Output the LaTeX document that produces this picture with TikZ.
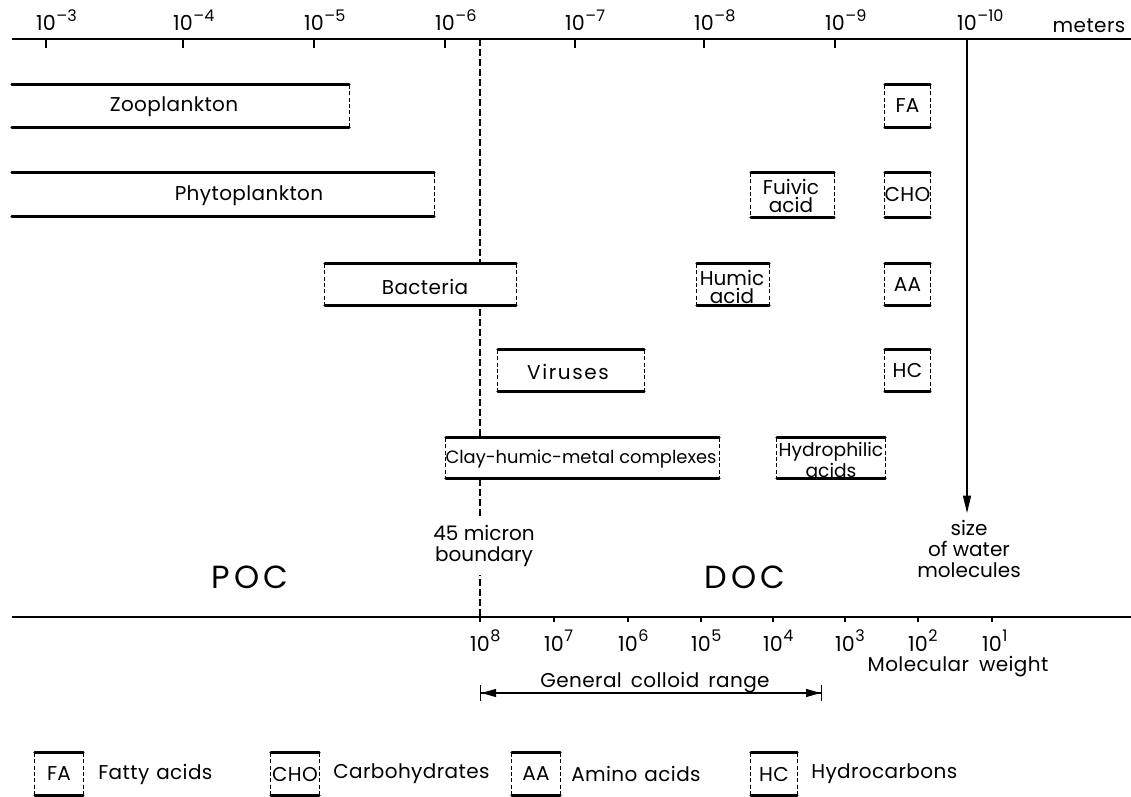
\documentclass[tikz,border=0pt]{standalone}
\usepackage{fontspec}
\setmainfont{Poppins}
\usetikzlibrary{arrows.meta,fit}

% edges of a size band: solid top and bottom, dashed ends
\newcommand\bandTB[1]{\draw[solidedge] (#1.north west) -- (#1.north east) (#1.south west) -- (#1.south east);}
\newcommand\bandL[1]{\draw[dashedge] (#1.north west) -- (#1.south west);}
\newcommand\bandR[1]{\draw[dashedge] (#1.north east) -- (#1.south east);}
% power of ten, centred on the base
\newcommand\pw[2]{10\rlap{\kern0.5pt\raisebox{0.48em}{\fontsize{12}{12}\selectfont#2}}}

\begin{document}
\begin{tikzpicture}[x=0.75pt,y=-0.75pt,
  lab/.style={font=\fontsize{15}{17}\selectfont\addfontfeature{LetterSpace=2}, inner sep=0pt, align=center},
  pair/.style={lab, font=\fontsize{15}{13.5}\selectfont},
  tight/.style={font=\fontsize{14}{10.5}\selectfont, inner sep=0pt, align=center},
  num/.style={font=\fontsize{15.5}{15.5}\selectfont, inner sep=0pt},
  big/.style={font=\fontsize{24}{24}\selectfont\addfontfeature{LetterSpace=12}, inner sep=0pt},
  band/.style={inner sep=0pt, fill=white},
  solidedge/.style={line width=2.1pt, line cap=round},
  dashedge/.style={line width=0.9pt, dash pattern=on 3pt off 1.8pt},
  axisline/.style={line width=1.8pt},
  tick/.style={line width=1.2pt},
  boundary/.style={line width=0.9pt, dash pattern=on 5pt off 2.5pt},
]
\useasboundingbox (0,0) rectangle (1131,796);

% size axis (meters)
\coordinate (tl) at (12,39);
\coordinate (tr) at (1131,39);
\draw[axisline] (tl) -- (tr);
\foreach \x/\e in {46/–3,183/–4,314/–5,445/–6,575/–7,704/–8,835/–9}{
  \draw[tick] (\x,39) -- (\x,48);
  \node[num, anchor=base] at (\x,31) {\pw{10}{\e}};
}
\node[num, anchor=base] at (967,31) {\pw{10}{–10}};
\node[lab, anchor=base] (meters) at (1089,32) {meters};

% molecular weight axis
\coordinate (bl) at (12,617);
\coordinate (br) at (1131,617);
\draw[axisline] (bl) -- (br);
\foreach \x/\e in {480/8,554/7,628/6,701/5,773/4,845/3,918/2,992/1}{
  \draw[tick] (\x,617) -- (\x,622);
  \node[num, anchor=base] at (\x,651) {\pw{10}{\e}};
}
\node[lab] (mw) at (958,667) {Molecular\hspace{0.5em}weight};

% 45 micron boundary
\coordinate (btop) at (480,39);
\coordinate (bbot) at (480,617);
\draw[boundary] (btop) -- (bbot);
\node[lab, fill=white, inner ysep=6pt, inner xsep=2pt, font=\fontsize{15}{15.8}\selectfont] (micron) at (484,546) {45 micron\\boundary};

% size of water molecules
\coordinate (wtop) at (967,39);
\coordinate (wtip) at (967,513);
\draw[line width=0.9pt, -{Triangle[length=13pt,width=6pt]}] (wtop) -- (wtip);
\node[lab, font=\fontsize{15}{15.8}\selectfont] (water) at (969,549) {size\\of water\\molecules};

% POC / DOC
\node[big] (poc) at (250,577) {POC};
\node[big] (doc) at (745,577) {DOC};

% particulate bands
\node[band, fit={(12,85) (349,127)}] (zoo) {};
\bandTB{zoo}\bandR{zoo}
\node[lab] (zoo-t) at (174,107) {Zooplankton};

\node[band, fit={(12,173) (434,216)}] (phy) {};
\bandTB{phy}\bandR{phy}
\node[lab] (phy-t) at (249,196) {Phytoplankton};

\node[band, fit={(325,264) (516,305)}] (bac) {};
\bandTB{bac}\bandL{bac}\bandR{bac}
\node[lab] (bac-t) at (425,287) {Bacteria};

\node[band, fit={(498,350) (644,391)}] (vir) {};
\bandTB{vir}\bandL{vir}\bandR{vir}
\node[lab, font=\fontsize{15}{17}\selectfont\addfontfeature{LetterSpace=8}] (vir-t) at (568,372) {Viruses};

\node[band, fit={(446,438) (719,478)}] (clay) {};
\bandTB{clay}\bandL{clay}\bandR{clay}
\node[lab, font=\fontsize{13.4}{15}\selectfont] (clay-t) at (581,459) {Clay-humic-metal complexes};

% dissolved bands
\node[band, fit={(751,173) (834,217)}] (ful) {};
\bandTB{ful}\bandL{ful}\bandR{ful}
\node[pair] (ful-t) at (791,196) {Fuivic\\acid};

\node[band, fit={(697,264) (769,305)}] (hum) {};
\bandTB{hum}\bandL{hum}\bandR{hum}
\node[pair] (hum-t) at (732,287) {Humic\\acid};

\node[band, fit={(777,438) (885,478)}] (hyd) {};
\bandTB{hyd}\bandL{hyd}\bandR{hyd}
\node[tight] (hyd-t) at (831,460) {Hydrophilic\\acids};

\foreach \n/\y/\t/\b in {fa/85/127/FA,cho/173/217/CHO,aa/264/305/AA,hc/350/391/HC}{
  \node[band, fit={(885,\y) (930,\t)}] (\n) {};
  \bandTB{\n}\bandL{\n}\bandR{\n}
  \node[lab] (\n-t) at (\n.center) {\b};
}

% general colloid range
\coordinate (cl) at (480,693);
\coordinate (cr) at (822,693);
\draw[line width=0.8pt, {Bar[width=12pt,line width=1pt]Triangle[length=11pt,width=6pt]}-{Triangle[length=11pt,width=6pt]Bar[width=12pt,line width=1pt]}] (cl) -- (cr);
\node[lab] (colloid) at (655,683) {General\hspace{0.45em}colloid\hspace{0.45em}range};

% legend
\foreach \n/\x/\w/\b/\d/\tx in {lfa/35/83/FA/Fatty\hspace{0.35em}acids/98,lcho/271/319/CHO/Carbohydrates/333,laa/512/560/AA/Amino\hspace{0.35em}acids/571,lhc/751/797/HC/Hydrocarbons/811}{
  \node[band, fit={(\x,753) (\w,795)}] (\n) {};
  \bandTB{\n}\bandL{\n}\bandR{\n}
  \node[lab] (\n-t) at (\n.center) {\b};
  \node[lab, anchor=west] (\n-d) at (\tx,774) {\d};
}
\end{tikzpicture}
\end{document}
